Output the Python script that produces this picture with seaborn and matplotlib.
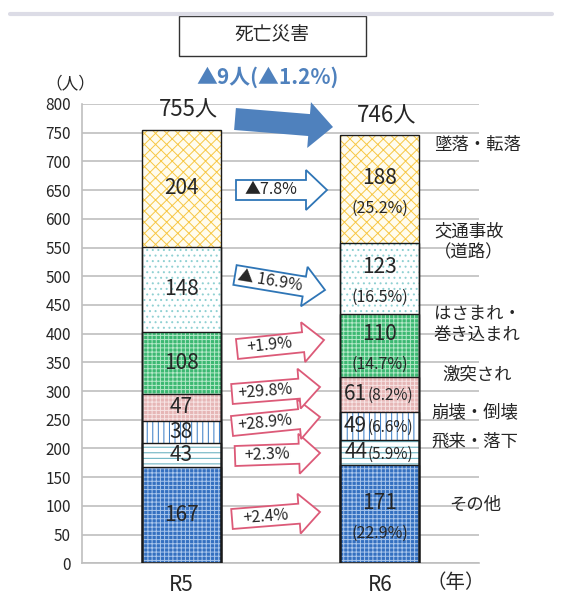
import numpy as np
import pandas as pd
import matplotlib
matplotlib.use("Agg")
import matplotlib.pyplot as plt
from matplotlib.patches import Polygon, Rectangle
from matplotlib.lines import Line2D
import seaborn as sns

# ---------------- data ----------------
years = ["R5", "R6"]
categories = ["その他", "飛来・落下", "崩壊・倒壊", "激突され",
              "はさまれ・巻き込まれ", "交通事故（道路）", "墜落・転落"]
side_labels = ["その他", "飛来・落下", "崩壊・倒壊", "激突され",
               "はさまれ・\n巻き込まれ", "交通事故\n（道路）", "墜落・転落"]
r5_values = [167, 43, 38, 47, 108, 148, 204]
r6_values = [171, 44, 49, 61, 110, 123, 188]
r6_share = ["22.9", "5.9", "6.6", "8.2", "14.7", "16.5", "25.2"]
changes = ["+2.4%", "+2.3%", "+28.9%", "+29.8%", "+1.9%", "▲ 16.9%", "▲7.8%"]
title = "死亡災害"
y_unit = "（人）"
x_unit = "（年）"

# ---------------- style ----------------
sns.set_style("white")
plt.rcParams["font.family"] = ["Noto Sans CJK JP", "DejaVu Sans"]
plt.rcParams["hatch.linewidth"] = 0.7

W, H = 562, 607
fig = plt.figure(figsize=(W / 100, H / 100), dpi=100)
ax = fig.add_axes([82 / W, (H - 563.3) / H, (479 - 82) / W, (563.3 - 104) / H])


def fp(x, y):
    return (x / W, 1 - y / H)


# fills, hatch patterns, hatch colours (bottom -> top)
face_cols = ["#3470C0", "#FFFFFF", "#FFFFFF", "#E6B6B6", "#3CB872", "#FFFFFF", "#FFFCEE"]
hatches = ["++++", "---", "|||", "++++", "++++", "...", "xxx"]
hatch_cols = ["#A9C6EC", "#5AAABB", "#3479C4", "#F7E4E4", "#B4E8C8", "#8FD0D2", "#F7C744"]

rows = []
for yr, vals in zip(years, [r5_values, r6_values]):
    cum = np.cumsum(vals)
    for cat, v, c in zip(categories, vals, cum):
        rows.append(dict(year=yr, category=cat, value=v, cum=c))
df = pd.DataFrame(rows)

# stacked bars via cumulative overdraw (top category first)
for i in reversed(range(len(categories))):
    sub = df[df["category"] == categories[i]]
    sns.barplot(data=sub, x="year", y="cum", order=years, color=face_cols[i],
                saturation=1, width=0.4, hatch=hatches[i], edgecolor=hatch_cols[i],
                linewidth=0, errorbar=None, ax=ax, zorder=2)
# outlines
for i in reversed(range(len(categories))):
    sub = df[df["category"] == categories[i]]
    sns.barplot(data=sub, x="year", y="cum", order=years, color="black",
                saturation=1, width=0.4, facecolor="none", edgecolor="#1a1a1a",
                linewidth=1.0, errorbar=None, ax=ax, zorder=3)

ax.set_xlim(-0.5, 1.5)
ax.set_ylim(0, 800)
ax.set_yticks(np.arange(0, 801, 50))
ax.set_xlabel("")
ax.set_ylabel("")
ax.yaxis.grid(True, color="#BFBFBF", linewidth=1.2)
ax.set_axisbelow(True)
for s in ["top", "right"]:
    ax.spines[s].set_visible(False)
ax.spines["left"].set_color("#BFBFBF")
ax.spines["left"].set_linewidth(1.2)
ax.spines["bottom"].set_color("#BFBFBF")
ax.spines["bottom"].set_linewidth(1.2)
ax.tick_params(axis="y", length=5, color="#BFBFBF", width=1.2, labelsize=11, pad=3)
ax.tick_params(axis="x", length=0, labelsize=15, pad=8)
ax.set_xticks([0, 1])
ax.set_xticklabels(years)

# value labels
cum5 = np.cumsum(r5_values)
cum6 = np.cumsum(r6_values)
for i in range(len(categories)):
    m5 = cum5[i] - r5_values[i] / 2
    ax.text(0, m5, str(r5_values[i]), ha="center", va="center", fontsize=15, zorder=5)
    m6 = cum6[i] - r6_values[i] / 2
    if r6_values[i] >= 100:
        ax.annotate(str(r6_values[i]), (1, m6), xytext=(0, 8), textcoords="offset points",
                    ha="center", va="center", fontsize=15, zorder=5)
        ax.annotate(f"({r6_share[i]}%)", (1, m6), xytext=(0, -14), textcoords="offset points",
                    ha="center", va="center", fontsize=11.5, zorder=5)
    else:
        ax.annotate(str(r6_values[i]), (1, m6), xytext=(-9, 0), textcoords="offset points",
                    ha="right", va="center", fontsize=15, zorder=5)
        ax.annotate(f"({r6_share[i]}%)", (1, m6), xytext=(-9, -1), textcoords="offset points",
                    ha="left", va="center", fontsize=11, zorder=5)

# totals
tot5, tot6 = int(sum(r5_values)), int(sum(r6_values))
ax.annotate(f"{tot5}人", (0, tot5), xytext=(5, 14), textcoords="offset points",
            ha="center", va="center", fontsize=16, annotation_clip=False)
ax.annotate(f"{tot6}人", (1, tot6), xytext=(5, 14), textcoords="offset points",
            ha="center", va="center", fontsize=16, annotation_clip=False)

# headline
diff = tot6 - tot5
pct = abs(diff) / tot5 * 100
sign = "▲" if diff < 0 else "+"
fig.text(*fp(268, 77), f"{sign}{abs(diff)}人({sign}{pct:.1f}%)", ha="center", va="center",
         fontsize=15, fontweight="bold", color="#4F81BD")

# title box and top rule
fig.add_artist(Line2D([10 / W, 552 / W], [1 - 13.5 / H, 1 - 13.5 / H], color="#DCDCE6",
                      linewidth=3))
bx0, by0 = fp(179, 56)
bx1, by1 = fp(366, 16)
fig.add_artist(Rectangle((bx0, by0), bx1 - bx0, by1 - by0, transform=fig.transFigure,
                         facecolor="white", edgecolor="#333333", linewidth=1.0))
fig.text(*fp(272, 35), title, ha="center", va="center", fontsize=13.5)

fig.text(*fp(70, 84), y_unit, ha="center", va="center", fontsize=12)
fig.text(*fp(456, 582), x_unit, ha="center", va="center", fontsize=14)

# right side labels
side_pos = [(475, 505), (475, 442), (475, 412), (477, 375), (477, 325), (469, 242), (477, 145)]
for lab, (x, y) in zip(side_labels, side_pos):
    fig.text(*fp(x, y), lab, ha="center", va="center", fontsize=12.5, linespacing=1.25)


# block arrows
def block_arrow(tail, tip, shaft_h, head_h, head_len, ec, fc, lw, text=None, fs=10.5):
    t = np.array(tail, float)
    p = np.array(tip, float)
    d = p - t
    L = np.hypot(*d)
    u = d / L
    n = np.array([-u[1], u[0]])
    neck = p - u * head_len
    pts = [t + n * shaft_h, neck + n * shaft_h, neck + n * head_h, p,
           neck - n * head_h, neck - n * shaft_h, t - n * shaft_h]
    pts = [fp(*q) for q in pts]
    fig.add_artist(Polygon(pts, closed=True, transform=fig.transFigure,
                           facecolor=fc, edgecolor=ec, linewidth=lw, joinstyle="miter"))
    if text:
        c = (t + neck) / 2
        ang = -np.degrees(np.arctan2(d[1], d[0]))
        fig.text(*fp(*c), text, ha="center", va="center", fontsize=fs,
                 rotation=ang, rotation_mode="anchor")


arrow_geo = [((232, 519), (320, 512)), ((235, 456), (320, 453)),
             ((232, 426), (320, 417)), ((232, 394), (320, 387)),
             ((237, 349), (324, 340)), ((235, 275), (325, 290)),
             ((236, 190), (327, 190))]
for chg, (tl, tp) in zip(changes, arrow_geo):
    col = "#2E75B6" if chg.startswith("▲") else "#DC5A78"
    block_arrow(tl, tp, 10, 20, 21, col, "white", 1.3, chg, fs=11.5)

# big arrow between totals
block_arrow((235, 119), (333, 127), 11, 23, 24, "none", "#4F81BD", 0)

fig.savefig("out.png", dpi=100)
